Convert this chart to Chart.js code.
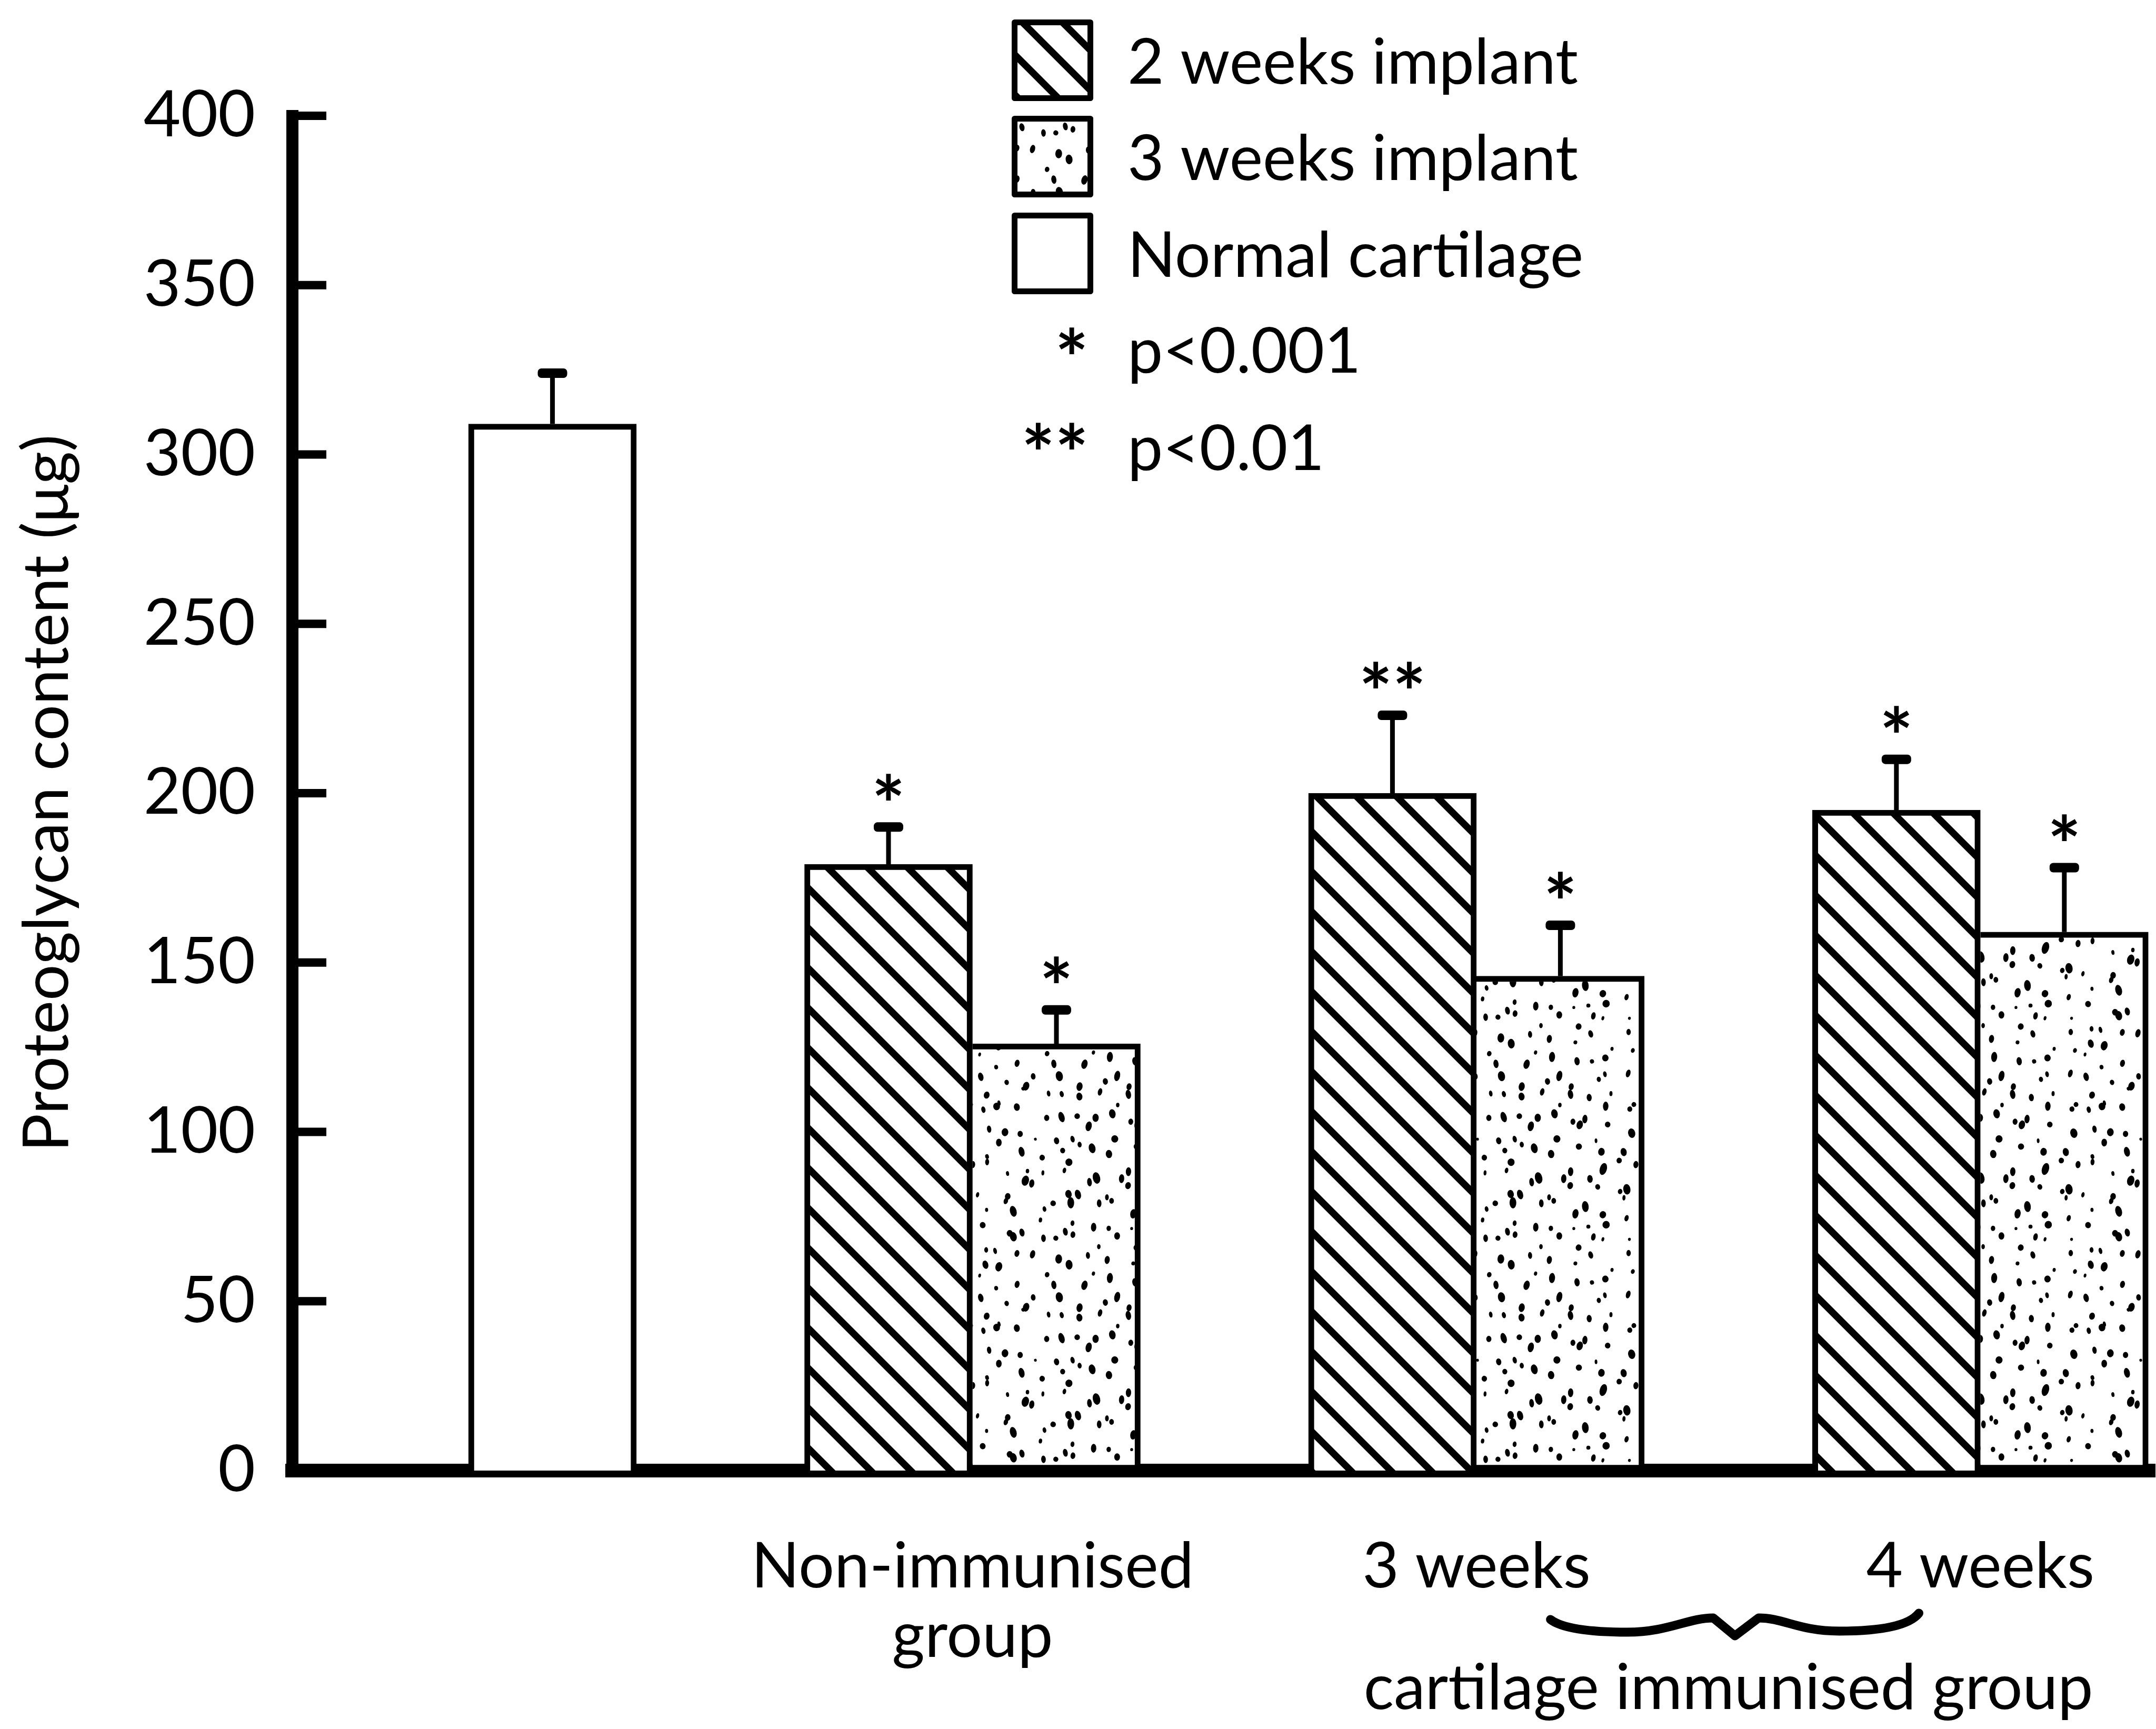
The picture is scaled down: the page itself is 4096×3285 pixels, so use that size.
<!DOCTYPE html>
<html>
<head>
<meta charset="utf-8">
<title>Proteoglycan content</title>
<script src="https://cdn.jsdelivr.net/npm/chart.js@4.4.1/dist/chart.umd.min.js"></script>
<style>
  html, body { margin: 0; padding: 0; background: #fff; }
  canvas { display: block; }
</style>
</head>
<body>
<canvas id="proteoglycanChart" width="4096" height="3285"></canvas>
<script>
// groups along the x axis (first slot holds the normal cartilage bar, no label)
const categories = ['', ['Non-immunised', 'group'], '3 weeks', '4 weeks'];

// proteoglycan content (ug) and upper error
const twoWeekValues = [null, 179, 200, 195];
const twoWeekErrors = [null, 11, 23, 15];
const threeWeekValues = [null, 126, 146, 159];
const threeWeekErrors = [null, 10, 15, 19];
const normalValues = [309, null, null, null];
const normalErrors = [15, null, null, null];

// significance marks above the error bars
const twoWeekMarks = ['', '*', '**', '*'];
const threeWeekMarks = ['', '*', '*', '*'];
const normalMarks = ['', '', '', ''];

const yTicks = [0, 50, 100, 150, 200, 250, 300, 350, 400];
const pLegend = [['*', 'p<0.001'], ['**', 'p<0.01']];
const immunisedLabel = 'cartilage immunised group';

const FONT = 'Lato';
const STAR_FONT = 'bold 150px ' + FONT;
const STAR_RISE = 0.59 * 150; // centre of the '*' glyph above its baseline
Chart.defaults.font.family = FONT;
Chart.defaults.color = '#000';

const canvas = document.getElementById('proteoglycanChart');
const ctx = canvas.getContext('2d');

// diagonal hatch, lines running top-left to bottom-right
function hatchPattern() {
    const size = 76;
    const tile = document.createElement('canvas');
    tile.width = size;
    tile.height = size;
    const g = tile.getContext('2d');
    g.fillStyle = '#fff';
    g.fillRect(0, 0, size, size);
    g.strokeStyle = '#000';
    g.lineWidth = 13;
    for (const o of [-size, 0, size]) {
        g.beginPath();
        g.moveTo(o - 6, -6);
        g.lineTo(o + size + 6, size + 6);
        g.stroke();
    }
    return ctx.createPattern(tile, 'repeat');
}

// stipple texture: one dot per small cell, jittered with a fixed seed
function stipplePattern() {
    const cell = 35, cells = 12;
    const size = cell * cells;
    const tile = document.createElement('canvas');
    tile.width = size;
    tile.height = size;
    const g = tile.getContext('2d');
    g.fillStyle = '#fff';
    g.fillRect(0, 0, size, size);
    g.fillStyle = '#000';
    let seed = 48271;
    const next = () => (seed = (seed * 16807) % 2147483647) / 2147483647;
    for (let r = 0; r < cells; r++) {
        for (let c = 0; c < cells; c++) {
            const cx = (c + next()) * cell, cy = (r + next()) * cell;
            const rx = 2.5 + next() * 4.5;
            const ry = rx * (1 + next() * 0.8);
            const rot = (next() - 0.5) * 0.6;
            for (const dx of [-size, 0, size]) {
                for (const dy of [-size, 0, size]) {
                    g.beginPath();
                    g.ellipse(cx + dx, cy + dy, rx, ry, rot, 0, Math.PI * 2);
                    g.fill();
                }
            }
        }
    }
    return ctx.createPattern(tile, 'repeat');
}

const hatch = hatchPattern();
const stipple = stipplePattern();

const toPoints = (values) => values.map((v, i) => ({ x: i, y: v }));

const barStyle = {
    borderColor: '#000',
    borderWidth: 11,
    barThickness: 319,
    grouped: true
};

// error bars, inward y ticks, stars, brace, legend
const annotations = {
    id: 'annotations',
    afterDatasetsDraw(chart) {
        const { ctx, chartArea, scales: { x, y } } = chart;
        ctx.save();
        ctx.fillStyle = '#000';
        ctx.strokeStyle = '#000';

        // short tick marks pointing into the plot
        ctx.lineWidth = 16;
        y.ticks.forEach((t) => {
            if (t.value === 0) return;
            const py = y.getPixelForValue(t.value);
            ctx.beginPath();
            ctx.moveTo(chartArea.left, py);
            ctx.lineTo(chartArea.left + 65, py);
            ctx.stroke();
        });

        ctx.textAlign = 'center';
        ctx.textBaseline = 'alphabetic';
        chart.data.datasets.forEach((ds, di) => {
            const meta = chart.getDatasetMeta(di);
            meta.data.forEach((bar, i) => {
                const v = ds.data[i].y;
                if (v === null) return;
                const capY = y.getPixelForValue(v + ds.errors[i]);
                ctx.lineWidth = 9;
                ctx.beginPath();
                ctx.moveTo(bar.x, bar.y);
                ctx.lineTo(bar.x, capY);
                ctx.stroke();
                ctx.beginPath();
                ctx.roundRect(bar.x - 28, capY - 9, 56, 18, 7);
                ctx.fill();
                if (ds.marks[i]) {
                    ctx.font = STAR_FONT;
                    ctx.fillText(ds.marks[i], bar.x, capY - 76 + STAR_RISE);
                }
            });
        });

        // brace grouping the two cartilage immunised groups
        const by = chartArea.bottom;
        const px = (v) => x.getPixelForValue(v);
        ctx.lineWidth = 17;
        ctx.lineCap = 'round';
        ctx.lineJoin = 'round';
        ctx.beginPath();
        ctx.moveTo(px(2.147), by + 283);
        ctx.quadraticCurveTo(px(2.18), by + 307, px(2.30), by + 307);
        ctx.bezierCurveTo(px(2.38), by + 307, px(2.42), by + 280, px(2.47), by + 280);
        ctx.lineTo(px(2.513), by + 314);
        ctx.lineTo(px(2.56), by + 280);
        ctx.bezierCurveTo(px(2.61), by + 280, px(2.64), by + 305, px(2.72), by + 305);
        ctx.quadraticCurveTo(px(2.85), by + 305, px(2.878), by + 271);
        ctx.stroke();
        ctx.font = '120px ' + FONT;
        ctx.fillText(immunisedLabel, px(2.5), by + 453);

        // legend
        const swX = 1922, sw = 155, textX = 2142;
        const rowTop = [37, 220, 404];
        chart.data.datasets.forEach((ds, i) => {
            const top = rowTop[i];
            ctx.fillStyle = ds.backgroundColor;
            ctx.fillRect(swX, top, sw, sw);
            ctx.lineWidth = 11;
            ctx.strokeStyle = '#000';
            ctx.strokeRect(swX + 5.5, top + 5.5, sw - 11, sw - 11);
            ctx.fillStyle = '#000';
            ctx.textAlign = 'left';
            ctx.font = '120px ' + FONT;
            ctx.fillText(ds.label, textX, top + 122);
        });
        const pBase = [708, 893];
        const starMid = [647, 828];
        pLegend.forEach(([star, text], i) => {
            ctx.textAlign = 'right';
            ctx.font = STAR_FONT;
            ctx.fillText(star, 2068, starMid[i] + STAR_RISE);
            ctx.textAlign = 'left';
            ctx.font = '120px ' + FONT;
            ctx.fillText(text, textX, pBase[i]);
        });
        ctx.restore();
    }
};

new Chart(ctx, {
    type: 'bar',
    data: {
        datasets: [
            Object.assign({
                label: '2 weeks implant',
                data: toPoints(twoWeekValues),
                errors: twoWeekErrors,
                marks: twoWeekMarks,
                backgroundColor: hatch,
                stack: 'early',
                borderSkipped: 'bottom'
            }, barStyle),
            Object.assign({
                label: '3 weeks implant',
                data: toPoints(threeWeekValues),
                errors: threeWeekErrors,
                marks: threeWeekMarks,
                backgroundColor: stipple,
                stack: 'late',
                borderSkipped: 'left'
            }, barStyle),
            Object.assign({
                label: 'Normal cartilage',
                data: toPoints(normalValues),
                errors: normalErrors,
                marks: normalMarks,
                backgroundColor: '#fff',
                stack: 'late',
                borderSkipped: 'bottom'
            }, barStyle)
        ]
    },
    options: {
        responsive: false,
        animation: false,
        devicePixelRatio: 1,
        events: [],
        layout: { padding: { top: 220, right: 0, bottom: 0, left: 0 } },
        plugins: {
            legend: { display: false },
            tooltip: { enabled: false }
        },
        scales: {
            x: {
                type: 'linear',
                bounds: 'data',
                offset: false,
                min: -0.35,
                max: 3.347,
                afterBuildTicks: (scale) => {
                    scale.ticks = categories.map((c, i) => ({ value: i }));
                },
                afterFit: (scale) => { scale.height = 491; },
                grid: { display: false, drawTicks: false },
                border: { display: true, color: '#000', width: 26 },
                ticks: {
                    callback: (v) => categories[v],
                    autoSkip: false,
                    maxRotation: 0,
                    padding: 117,
                    color: '#000',
                    font: { family: FONT, size: 120, lineHeight: 1.1 }
                }
            },
            y: {
                stacked: false,
                min: 0,
                max: 400,
                afterBuildTicks: (scale) => {
                    scale.ticks = yTicks.map((v) => ({ value: v }));
                },
                afterFit: (scale) => { scale.width = 555; },
                grid: { display: false, drawTicks: false },
                border: { display: true, color: '#000', width: 23 },
                ticks: {
                    padding: 70,
                    color: '#000',
                    font: { family: FONT, size: 122 }
                },
                title: {
                    display: true,
                    text: 'Proteoglycan content (μg)',
                    color: '#000',
                    font: { family: FONT, size: 121, lineHeight: 1.2 },
                    padding: { top: 17, bottom: 0 }
                }
            }
        }
    },
    plugins: [annotations]
});
</script>
</body>
</html>
